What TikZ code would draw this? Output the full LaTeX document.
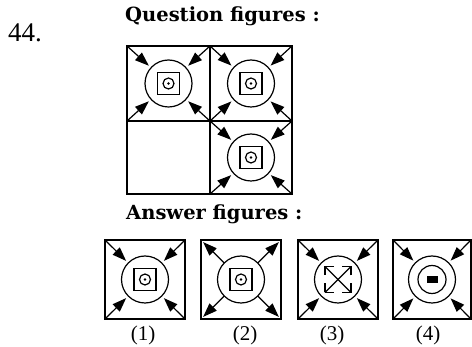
\documentclass[tikz,border=0pt]{standalone}
\usepackage{fontspec}
\setmainfont{Liberation Serif}
\newfontfamily\headfont{DejaVu Serif}
\usetikzlibrary{arrows.meta}
\tikzset{
  cellbox/.style 2 args={draw, line width=1.7pt, inner sep=0pt, outer sep=0pt,
    minimum width=#1, minimum height=#2},
  ring/.style={draw, circle, line width=1.2pt, inner sep=0pt, outer sep=0pt, minimum size=#1},
  sqr/.style={draw, line width=1.2pt, inner sep=0pt, outer sep=0pt, minimum size=#1},
  dotn/.style={fill, circle, inner sep=0pt, minimum size=2.8pt},
  inarr/.style={line width=1.2pt, -{Triangle[length=14pt,width=10pt]}, shorten >=3pt},
  outarr/.style={line width=1.2pt, -{Triangle[length=14pt,width=10pt]}, shorten >=3pt},
  head/.style={anchor=base west, inner sep=0pt, font=\headfont\bfseries\fontsize{19.5}{19.5}\selectfont},
  lab/.style={inner sep=0pt, font=\fontsize{21}{21}\selectfont},
}
\begin{document}
\begin{tikzpicture}[x=1pt,y=-1pt]
\useasboundingbox (0,0) rectangle (472,347);
% texts
\node[anchor=base west, inner sep=0pt, font=\fontsize{27}{27}\selectfont] (num) at (8,42) {44.};
\node[head] (qt) at (125,22) {Question figures :};
\node[head] (ant) at (126,220) {Answer figures :};
% question grid
\node[cellbox={83pt}{75pt}] (c1) at (168.5,83.5) {};
\node[cellbox={82pt}{75pt}] (c2) at (251,83.5) {};
\node[cellbox={83pt}{73pt}] (c3) at (168.5,157.5) {};
\node[cellbox={82pt}{73pt}] (c4) at (251,157.5) {};
% answer boxes
\node[cellbox={80pt}{79pt}] (c5) at (145,279.5) {};
\node[cellbox={80pt}{79pt}] (c6) at (241,279.5) {};
\node[cellbox={80pt}{79pt}] (c7) at (338,279.5) {};
\node[cellbox={78pt}{79pt}] (c8) at (432,279.5) {};
% circles
\foreach \i in {1,2,4,5,6,7,8}{
  \node[ring=47pt] (o\i) at (c\i.center) {};
}
% standard symbol: square, small circle, dot
\foreach \i in {1,2,4,5,6}{
  \node[sqr=22pt] (s\i) at (o\i.center) {};
  \node[ring=11pt] (i\i) at (o\i.center) {};
  \node[dotn] (d\i) at (o\i.center) {};
}
% box 3 symbol
\node[draw, line width=1.2pt, inner sep=0pt, outer sep=0pt, minimum size=26pt,
      dash pattern=on 9pt off 8pt on 9pt off 0pt] (x7) at (o7.center) {};
\draw[line width=1.2pt] (x7.north west) -- (x7.south east);
\draw[line width=1.2pt] (x7.north east) -- (x7.south west);
% box 4 symbol
\node[ring=28pt] (r8) at (o8.center) {};
\node[fill, inner sep=0pt, minimum width=11pt, minimum height=7pt] (f8) at (o8.center) {};
% inward arrows
\foreach \i in {1,2,4,5,7,8}{
  \foreach \a in {north west,north east,south west,south east}{
    \draw[inarr] (c\i.\a) -- (o\i);
  }
}
% outward arrows
\foreach \a in {north west,north east,south west,south east}{
  \draw[outarr] (o6) -- (c6.\a);
}
% labels
\node[lab] (l1) at (143,335) {(1)};
\node[lab] (l2) at (245,335) {(2)};
\node[lab] (l3) at (332,335) {(3)};
\node[lab] (l4) at (428,335) {(4)};
\end{tikzpicture}
\end{document}
